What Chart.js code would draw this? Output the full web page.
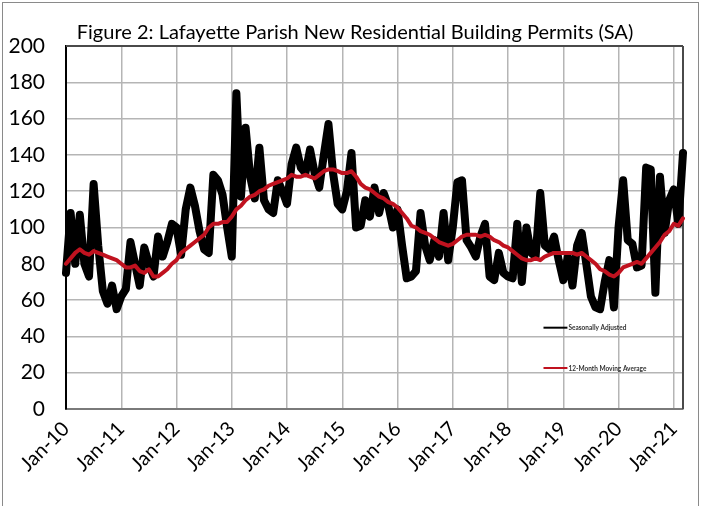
<!DOCTYPE html>
<html>
<head>
<meta charset="utf-8">
<script src="https://cdn.jsdelivr.net/npm/chart.js@4.4.1/dist/chart.umd.min.js"></script>
<style>
  html, body { margin: 0; padding: 0; background: #fff; }
  #wrap { position: relative; width: 702px; height: 506px; }
  #frame { position: absolute; left: 2px; top: 2px; width: 697px; height: 506px;
           border-left: 1px solid #8a8a8a; border-top: 1px solid #8a8a8a; border-right: 1px solid #8a8a8a;
           box-sizing: border-box; pointer-events: none; }
</style>
</head>
<body>
<div id="wrap">
  <canvas id="c" width="702" height="506"></canvas>
  <div id="frame"></div>
</div>
<script>
const titleText = 'Figure 2: Lafayette Parish New Residential Building Permits (SA)';
const tickLabels = ['Jan-10','Jan-11','Jan-12','Jan-13','Jan-14','Jan-15','Jan-16','Jan-17','Jan-18','Jan-19','Jan-20','Jan-21'];
const monthNames = ['Jan','Feb','Mar','Apr','May','Jun','Jul','Aug','Sep','Oct','Nov','Dec'];
const yearSuffixes = ['10','11','12','13','14','15','16','17','18','19','20','21'];
const seriesNames = ['Seasonally Adjusted', '12-Month Moving Average'];

// Jan-10 .. Mar-21 (135 months)
const categories = [];
yearSuffixes.forEach(function (yy) {
  monthNames.forEach(function (m) { categories.push(m + '-' + yy); });
});
categories.length = 135;

const seasonallyAdjusted = [
  75,108,80,107,80,73,124,90,65,58,68,55,
  62,66,92,80,68,89,80,73,95,84,92,102,
  100,85,110,122,112,98,88,86,129,126,118,100,
  84,174,117,155,128,116,144,115,110,108,126,120,
  113,135,144,133,130,143,130,122,140,157,130,113,
  110,120,141,100,101,115,106,122,108,119,112,100,
  110,90,72,73,76,108,90,82,93,84,108,82,
  100,125,126,93,89,84,95,102,73,71,86,75,
  73,72,102,70,100,86,84,119,90,88,95,82,
  71,84,68,90,97,80,62,56,55,70,82,56,
  100,126,93,91,78,79,133,132,64,128,97,115,
  121,102,141
];

const movingAverage = [
  80,83,86,88,86,85,87,86,85,84,83,82,
  80,78,78,79,76,75,77,73,73,75,77,80,
  82,86,88,90,92,94,96,100,102,102,103,103,
  106,110,112,115,117,118,120,121,123,124,125,126,
  127,129,128,128,129,128,127,129,131,132,132,131,
  130,130,131,128,124,122,121,119,117,116,114,113,
  111,108,105,101,100,98,97,96,94,92,91,90,
  91,93,95,96,96,96,95,96,95,93,92,90,
  89,87,85,83,82,82,83,82,84,85,86,86,
  86,86,86,85,86,84,82,80,77,76,74,73,
  75,78,79,80,81,80,83,86,89,92,96,98,
  102,101,105
];

const FONT = 'Lato';
const RED = '#c0121f';

const decorPlugin = {
  id: 'decor',
  beforeDraw(chart) {
    const ctx = chart.ctx;
    ctx.save();
    ctx.fillStyle = '#000';
    ctx.font = '20px ' + FONT;
    ctx.textAlign = 'center';
    ctx.textBaseline = 'middle';
    ctx.fillText(titleText, 355, 33);
    ctx.restore();
  },
  beforeDatasetsDraw(chart) {
    const a = chart.chartArea, ctx = chart.ctx;
    ctx.save();
    ctx.strokeStyle = '#4a4a4a';
    ctx.lineWidth = 2;
    ctx.beginPath();
    ctx.moveTo(a.left, a.top); ctx.lineTo(a.right, a.top);
    ctx.moveTo(a.right, a.top); ctx.lineTo(a.right, a.bottom);
    ctx.stroke();
    ctx.restore();
  },
  afterDatasetsDraw(chart) {
    const ctx = chart.ctx;
    const x = chart.scales.x, y = chart.scales.y;
    // legend inside plot, anchored on data coordinates
    const x0 = x.getPixelForValue(103.7), x1 = x.getPixelForValue(108.9);
    const rows = [[seriesNames[0], '#000', y.getPixelForValue(44.8)], [seriesNames[1], RED, y.getPixelForValue(22.6)]];
    ctx.save();
    rows.forEach(function (r) {
      ctx.strokeStyle = r[1];
      ctx.lineWidth = 2;
      ctx.beginPath(); ctx.moveTo(x0, r[2]); ctx.lineTo(x1, r[2]); ctx.stroke();
      ctx.fillStyle = '#333';
      ctx.font = 'bold 6.5px ' + FONT;
      ctx.textBaseline = 'middle';
      ctx.fillText(r[0], x1 + 1, r[2] + 0.5);
    });
    ctx.restore();
  }
};

new Chart(document.getElementById('c'), {
  type: 'line',
  data: {
    labels: categories,
    datasets: [
      { label: seriesNames[0], data: seasonallyAdjusted, borderColor: '#000', backgroundColor: '#000',
        borderWidth: 8, pointRadius: 0, tension: 0, borderJoinStyle: 'round', borderCapStyle: 'round', order: 2 },
      { label: seriesNames[1], data: movingAverage, borderColor: RED, backgroundColor: RED,
        borderWidth: 4, pointRadius: 0, tension: 0, borderJoinStyle: 'round', borderCapStyle: 'round', order: 1 }
    ]
  },
  options: {
    responsive: false,
    animation: false,
    layout: { padding: { left: 0, right: 19, top: 46, bottom: 0 } },
    plugins: {
      legend: { display: false },
      tooltip: { enabled: false },
      title: { display: false }
    },
    scales: {
      x: {
        type: 'category',
        offset: false,
        grid: { color: function (c) { return c.index % 12 === 0 ? '#b5b5b5' : 'rgba(0,0,0,0)'; },
                lineWidth: 1.5, drawTicks: false },
        border: { color: '#7a7a7a', width: 2 },
        ticks: {
          autoSkip: false, minRotation: 45, maxRotation: 45, padding: 8, color: '#000',
          font: { family: FONT, size: 20 },
          callback: function (v, i) { return i % 12 === 0 ? tickLabels[i / 12] : ''; }
        },
        afterFit: function (s) { s.height = 97; s.paddingRight = 0; s.paddingLeft = 0; }
      },
      y: {
        min: 0, max: 200,
        grid: { color: '#b5b5b5', lineWidth: 1.5, drawTicks: false },
        border: { color: '#000', width: 2 },
        ticks: { stepSize: 20, padding: 21, color: '#000', font: { family: FONT, size: 21 } },
        afterFit: function (s) { s.width = 66; }
      }
    }
  },
  plugins: [decorPlugin]
});
</script>
</body>
</html>
